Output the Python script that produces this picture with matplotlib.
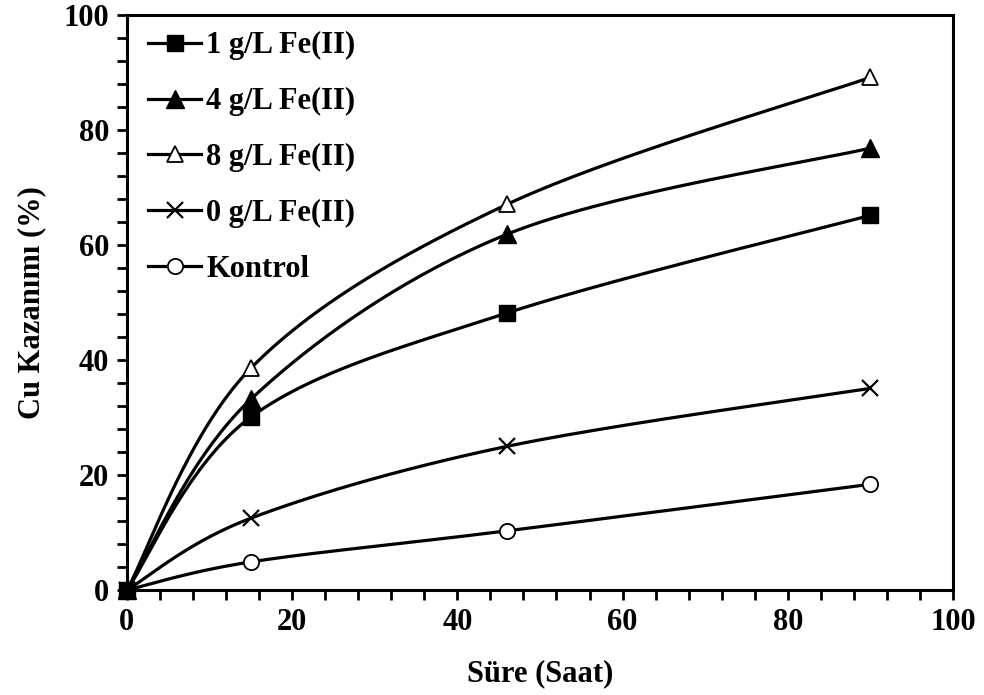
import numpy as np
import matplotlib
matplotlib.use("Agg")
import matplotlib.pyplot as plt
from matplotlib.ticker import MultipleLocator

plt.rcParams['font.family'] = ['Liberation Serif', 'DejaVu Serif']
plt.rcParams['font.weight'] = 'bold'

time_h = [0, 15, 46, 90]
fe1 = [0, 30.1, 48.2, 65.2]
fe4 = [0, 33.2, 61.9, 76.9]
fe8 = [0, 38.6, 67.1, 89.2]
fe0 = [0, 12.5, 25.0, 35.1]
kontrol = [0, 4.9, 10.3, 18.4]

labels = ["1 g/L Fe(II)", "4 g/L Fe(II)", "8 g/L Fe(II)", "0 g/L Fe(II)", "Kontrol"]


def excel_smooth(x, y, n=60):
    P = np.column_stack([x, y]).astype(float)
    m = len(P)
    out = [P[0]]
    t = np.linspace(0, 1, n)[1:, None]
    for i in range(m - 1):
        p0 = P[i]
        p3 = P[i + 1]
        pm = P[i - 1] if i > 0 else P[i]
        pp = P[i + 2] if i + 2 < m else P[i + 1]
        c1 = p0 + (p3 - pm) / 6.0
        c2 = p3 - (pp - p0) / 6.0
        seg = ((1 - t) ** 3) * p0 + 3 * ((1 - t) ** 2) * t * c1 + 3 * (1 - t) * t ** 2 * c2 + t ** 3 * p3
        out.extend(seg)
    out = np.array(out)
    return out[:, 0], out[:, 1]


fig = plt.figure(figsize=(9.84, 6.95), dpi=100)
ax = fig.add_axes([0.129, 0.151, 0.8395, 0.827])

lw = 2.3
series = [
    (fe1, dict(marker='s', markersize=12, markerfacecolor='black'), 6),
    (fe4, dict(marker='^', markersize=13, markerfacecolor='black'), 5),
    (fe8, dict(marker='^', markersize=11, markerfacecolor='white', markeredgewidth=1.3), 4),
    (fe0, dict(marker='x', markersize=12, markeredgewidth=1.6), 3),
    (kontrol, dict(marker='o', markersize=11, markerfacecolor='white', markeredgewidth=1.3), 2),
]

handles = []
for (vals, mk, z), lab in zip(series, labels):
    sx, sy = excel_smooth(time_h, vals)
    ax.plot(sx, sy, color='black', lw=lw, zorder=z, solid_capstyle='round')
    ax.plot(time_h, vals, linestyle='none', color='black', markeredgecolor='black', zorder=z + 0.5, clip_on=False, **mk)
    h, = ax.plot([], [], color='black', lw=lw, markeredgecolor='black', label=lab, **mk)
    handles.append(h)

ax.set_xlim(0, 100)
ax.set_ylim(0, 100)
ax.xaxis.set_major_locator(MultipleLocator(20))
ax.yaxis.set_major_locator(MultipleLocator(20))
ax.xaxis.set_minor_locator(MultipleLocator(4))
ax.yaxis.set_minor_locator(MultipleLocator(4))
ax.tick_params(which='both', direction='out', length=7, width=2, labelsize=22, pad=6)
for s in ax.spines.values():
    s.set_linewidth(2.2)

ax.set_xlabel("Süre (Saat)", fontsize=22, fontweight='bold', labelpad=16)
ax.set_ylabel("Cu Kazanımı (%)", fontsize=22, fontweight='bold', labelpad=12)

leg = ax.legend(handles=handles, loc='upper left', frameon=False, fontsize=22,
                handlelength=1.75, handletextpad=0.17, labelspacing=0.88,
                borderaxespad=0.12, bbox_to_anchor=(0.006, 1.0))

fig.savefig("out.png", dpi=100)
